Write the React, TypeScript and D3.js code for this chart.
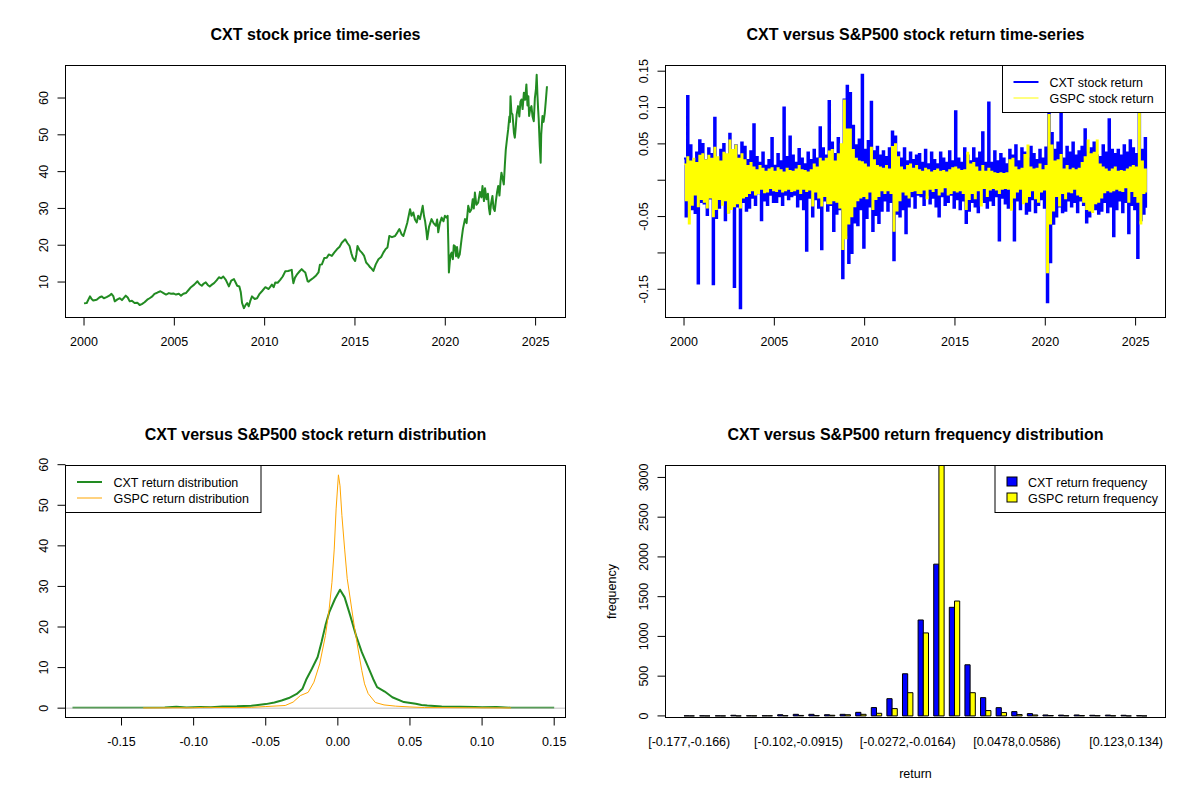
import * as d3 from "d3"

// ---- data (read off the reference) ----

// CXT closing price, [year, price]
const cxtPrice: [number, number][] = [
  [2000.0, 4.2], [2000.15, 4.3], [2000.33, 6.1], [2000.42, 5.4], [2000.51, 5.0], [2000.7, 5.2], [2000.85, 5.8], [2000.97, 6.1],
  [2001.1, 5.6], [2001.25, 5.9], [2001.4, 6.3], [2001.52, 6.8], [2001.62, 6.2], [2001.7, 4.75], [2001.85, 5.3], [2001.98, 5.6],
  [2002.1, 5.1], [2002.31, 6.3], [2002.42, 5.8], [2002.53, 4.75], [2002.65, 4.9], [2002.8, 4.3], [2002.95, 4.4],
  [2003.08, 3.75], [2003.2, 4.0], [2003.35, 4.5], [2003.5, 5.2], [2003.63, 5.6], [2003.78, 6.1], [2003.9, 6.8],
  [2004.05, 7.1], [2004.23, 7.5], [2004.4, 7.0], [2004.54, 6.6], [2004.7, 7.0], [2004.82, 6.8], [2004.95, 6.9],
  [2005.09, 6.6], [2005.25, 6.8], [2005.37, 6.3], [2005.5, 6.8], [2005.64, 7.0], [2005.8, 7.9], [2005.92, 8.6],
  [2006.1, 9.3], [2006.28, 10.2], [2006.4, 9.4], [2006.52, 9.0], [2006.63, 9.6], [2006.74, 9.9], [2006.85, 9.2], [2006.96, 8.8],
  [2007.08, 9.3], [2007.2, 9.7], [2007.35, 10.5], [2007.47, 11.3], [2007.6, 11.0], [2007.71, 11.5], [2007.85, 10.6],
  [2008.02, 8.8], [2008.15, 10.4], [2008.3, 10.8], [2008.4, 9.8], [2008.48, 9.0], [2008.6, 8.8], [2008.68, 7.2], [2008.75, 4.3],
  [2008.85, 2.9], [2008.95, 3.8], [2009.03, 4.3], [2009.12, 3.4], [2009.2, 4.8], [2009.3, 6.1], [2009.45, 5.4], [2009.58, 5.6],
  [2009.72, 6.8], [2009.85, 7.5], [2010.04, 8.6], [2010.22, 8.1], [2010.4, 9.3], [2010.5, 8.6], [2010.59, 9.9], [2010.72, 9.8],
  [2010.86, 10.6], [2011.0, 11.5], [2011.14, 12.9], [2011.3, 13.0], [2011.5, 13.3], [2011.55, 11.0], [2011.59, 9.7],
  [2011.68, 11.2], [2011.78, 12.0], [2011.95, 13.0], [2012.05, 13.5], [2012.15, 13.0], [2012.25, 12.6], [2012.38, 10.2],
  [2012.43, 10.1], [2012.55, 10.6], [2012.69, 11.1], [2012.85, 11.8], [2012.98, 12.6], [2013.06, 14.7], [2013.17, 14.8],
  [2013.3, 16.5], [2013.44, 16.6], [2013.55, 17.5], [2013.72, 17.1], [2013.85, 18.0], [2014.0, 18.9], [2014.15, 19.6],
  [2014.27, 20.7], [2014.46, 21.6], [2014.58, 20.6], [2014.7, 19.8], [2014.8, 17.8], [2014.88, 16.6], [2015.01, 15.7],
  [2015.08, 17.5], [2015.14, 19.8], [2015.26, 18.6], [2015.38, 18.0], [2015.5, 17.2], [2015.62, 15.3], [2015.75, 14.6],
  [2015.84, 14.0], [2015.93, 13.6], [2016.02, 13.0], [2016.15, 14.8], [2016.3, 16.2], [2016.45, 16.8], [2016.57, 18.0],
  [2016.7, 19.0], [2016.8, 19.4], [2016.9, 22.5], [2017.05, 22.2], [2017.22, 22.5], [2017.35, 23.5], [2017.46, 24.4],
  [2017.58, 23.0], [2017.68, 22.5], [2017.8, 24.5], [2017.9, 26.2], [2018.05, 29.8], [2018.13, 28.0], [2018.23, 28.9],
  [2018.32, 27.0], [2018.42, 26.2], [2018.5, 28.0], [2018.6, 27.1], [2018.68, 29.0], [2018.75, 30.7], [2018.82, 28.0],
  [2018.88, 26.6], [2018.95, 24.0], [2019.0, 21.6], [2019.1, 25.0], [2019.24, 27.1], [2019.35, 26.0], [2019.48, 25.3],
  [2019.55, 27.0], [2019.61, 23.5], [2019.7, 26.0], [2019.8, 27.5], [2019.9, 26.5], [2019.98, 28.0], [2020.07, 27.5],
  [2020.13, 28.0], [2020.17, 20.0], [2020.2, 12.6], [2020.25, 15.5], [2020.3, 17.5], [2020.35, 18.0], [2020.42, 16.2],
  [2020.47, 20.0], [2020.53, 19.8], [2020.6, 17.0], [2020.65, 19.5], [2020.72, 16.6], [2020.8, 17.5], [2020.9, 21.6],
  [2020.98, 24.5], [2021.09, 27.1], [2021.18, 26.0], [2021.27, 30.7], [2021.36, 29.0], [2021.45, 29.8], [2021.52, 32.5],
  [2021.58, 30.0], [2021.64, 34.3], [2021.72, 31.0], [2021.82, 31.6], [2021.92, 34.5], [2022.0, 33.0], [2022.06, 36.1],
  [2022.14, 32.0], [2022.2, 35.5], [2022.28, 32.5], [2022.36, 34.0], [2022.42, 30.0], [2022.47, 28.4], [2022.54, 31.5],
  [2022.61, 33.4], [2022.67, 30.0], [2022.74, 29.3], [2022.8, 32.0], [2022.87, 34.5], [2022.93, 36.1], [2023.0, 33.5],
  [2023.06, 37.5], [2023.11, 39.7], [2023.18, 38.0], [2023.24, 36.5], [2023.3, 42.0], [2023.35, 46.0], [2023.42, 49.0],
  [2023.48, 51.4], [2023.55, 55.0], [2023.58, 53.5], [2023.61, 60.5], [2023.66, 56.0], [2023.72, 55.5], [2023.76, 53.2],
  [2023.8, 50.5], [2023.85, 49.2], [2023.9, 52.0], [2023.95, 55.5], [2024.03, 57.8], [2024.1, 55.0], [2024.16, 59.0],
  [2024.22, 59.6], [2024.28, 57.0], [2024.35, 61.4], [2024.42, 59.5], [2024.49, 63.7], [2024.55, 58.0], [2024.6, 60.5],
  [2024.64, 55.1], [2024.7, 57.0], [2024.77, 57.8], [2024.83, 55.0], [2024.9, 53.7], [2024.96, 60.0], [2025.02, 62.5],
  [2025.06, 66.3], [2025.1, 61.0], [2025.14, 56.9], [2025.17, 54.5], [2025.19, 51.9], [2025.23, 47.0], [2025.28, 42.4],
  [2025.31, 50.0], [2025.35, 53.0], [2025.38, 55.1], [2025.44, 53.5], [2025.51, 56.0], [2025.57, 59.5], [2025.63, 63.2],
]

// daily returns, thinned to one extreme per month (x1000), Jan 2000 onward
const returnStartYear = 2000
const returnsPerYear = 12
const cxtReturnPermille = [
  30, -50, 116, -28, 48, -40, 26, -45, 38, -142, 55, -30, // 2000
  50, -32, 28, -48, 44, -25, 36, -143, 86, -52, 30, -38,
  42, -28, 50, -55, 26, -44, 64, -32, 40, -147, 48, -36,
  34, -176, 52, -30, 46, -42, 28, -38, 40, -24, 77, -34,
  32, -18, 24, -55, 38, -28, 20, -34, 28, -20, 58, -30,
  20, -30, 36, -22, 26, -34, 100, -20, 32, -26, 60, -22, // 2005
  34, -20, 24, -36, 43, -26, 30, -40, 22, -97, 38, -24,
  28, -50, 42, -26, 30, -38, 73, -95, 44, -28, 34, -42,
  109, -34, 52, -70, 36, -46, 58, -40, 48, -135, 111, -75,
  130, -114, 120, -100, 75, -58, 48, -62, 56, -40, 145, -93,
  42, -52, 54, -36, 108, -70, 40, -48, 46, -59, 34, -42, // 2010
  40, -28, 32, -42, 44, -30, 67, -110, 60, -46, 38, -50,
  30, -40, 44, -73, 26, -36, 38, -22, 28, -38, 34, -20,
  36, -22, 24, -34, 42, -20, 22, -32, 38, -24, 28, -36,
  22, -50, 38, -22, 30, -34, 24, -30, 40, -20, 26, -38,
  95, -26, 30, -40, 24, -28, 44, -59, 34, -42, 26, -30, // 2015
  44, -36, 30, -44, 38, -26, 66, -30, 24, -38, 107, -28,
  24, -34, 40, -22, 26, -83, 36, -24, 30, -32, 22, -38,
  42, -30, 34, -83, 48, -28, 26, -40, 44, -30, 38, -46,
  30, -42, 46, -26, 36, -44, 28, -34, 42, -26, 30, -38,
  45, -168, 120, -113, 65, -60, 42, -50, 52, -36, 95, -44, // 2020
  30, -42, 46, -28, 38, -36, 52, -30, 34, -44, 40, -28,
  46, -34, 70, -58, 38, -50, 44, -36, 52, -40, 34, -46,
  32, -42, 48, -30, 38, -44, 84, -36, 42, -77, 36, -40,
  42, -28, 34, -44, 48, -30, 38, -73, 55, -34, 44, -40,
  36, -107, 95, -55, 42, -46, 58, -38, // 2025
]
const gspcReturnPermille = [
  22, -28, 32, -60, 26, -34, 30, -20, 24, -36, 34, -26, // 2000
  36, -30, 28, -38, 34, -24, 30, -50, 45, -40, 32, -26,
  26, -34, 38, -28, 36, -45, 55, -40, 42, -36, 48, -32,
  30, -38, 36, -24, 28, -22, 20, -18, 24, -14, 18, -20,
  14, -18, 20, -12, 16, -17, 12, -16, 15, -11, 17, -14,
  12, -15, 17, -12, 14, -16, 11, -14, 16, -12, 13, -15, // 2005
  12, -14, 15, -12, 20, -18, 14, -12, 13, -15, 11, -13,
  14, -35, 22, -16, 18, -24, 30, -35, 26, -22, 30, -32,
  40, -32, 42, -28, 26, -30, 36, -38, 50, -95, 110, -80,
  70, -60, 70, -50, 42, -36, 30, -28, 26, -24, 25, -22,
  22, -25, 18, -16, 45, -40, 28, -26, 20, -22, 18, -14, // 2010
  16, -18, 20, -14, 15, -18, 46, -70, 50, -42, 32, -28,
  18, -16, 14, -20, 20, -24, 22, -15, 16, -14, 20, -18,
  14, -18, 12, -13, 16, -25, 14, -12, 11, -15, 13, -11,
  15, -20, 12, -16, 13, -10, 11, -20, 14, -18, 17, -14,
  18, -16, 15, -14, 13, -18, 14, -40, 38, -26, 22, -18, // 2015
  24, -25, 18, -14, 12, -35, 20, -11, 12, -22, 16, -13,
  12, -11, 10, -13, 9, -18, 10, -12, 9, -11, 10, -12,
  28, -41, 30, -24, 18, -16, 14, -12, 16, -32, 35, -30,
  48, -22, 18, -14, 15, -25, 16, -30, 22, -16, 14, -13,
  20, -127, 90, -60, 48, -42, 26, -22, 28, -35, 35, -18, // 2020
  15, -25, 20, -16, 14, -17, 16, -12, 14, -20, 16, -22,
  24, -30, 32, -40, 55, -42, 36, -44, 38, -32, 55, -30,
  22, -24, 18, -17, 15, -14, 12, -16, 15, -14, 18, -12,
  12, -14, 13, -15, 12, -10, 15, -30, 18, -15, 20, -22,
  18, -30, 95, -60, 26, -18, 15, -17, // 2025
]

// kernel density estimates, [return, density]
const cxtDensity: [number, number][] = [
  [-0.184, 0.1], [-0.15, 0.1], [-0.12, 0.15], [-0.112, 0.35], [-0.105, 0.15], [-0.095, 0.3], [-0.088, 0.2],
  [-0.08, 0.4], [-0.07, 0.45], [-0.06, 0.6], [-0.05, 1.0], [-0.044, 1.4], [-0.039, 1.9], [-0.034, 2.5],
  [-0.0285, 3.5], [-0.0245, 4.8], [-0.022, 7.0], [-0.018, 9.7], [-0.014, 12.6], [-0.0113, 16.3], [-0.0086, 20.4],
  [-0.006, 23.6], [-0.002, 26.9], [0.0015, 29.2], [0.0047, 27.3], [0.0086, 22.8], [0.0126, 17.9], [0.0166, 13.8],
  [0.0206, 10.5], [0.0245, 7.2], [0.0272, 5.2], [0.0325, 4.1], [0.0378, 2.7], [0.0458, 1.5], [0.054, 1.07],
  [0.058, 0.8], [0.062, 0.66], [0.072, 0.4], [0.085, 0.35], [0.095, 0.3], [0.1, 0.2], [0.11, 0.3], [0.12, 0.12],
  [0.15, 0.1],
]
const gspcDensity: [number, number][] = [
  [-0.135, 0.05], [-0.1, 0.1], [-0.093, 0.2], [-0.07, 0.15], [-0.06, 0.2], [-0.05, 0.4], [-0.0365, 0.66],
  [-0.031, 1.5], [-0.026, 3.1], [-0.0206, 3.9], [-0.0166, 6.4], [-0.0126, 10.9], [-0.0086, 17.9], [-0.006, 24.5],
  [-0.0041, 31.0], [-0.0025, 39.2], [-0.0012, 49.1], [0.0004, 57.5], [0.0015, 54.8], [0.0028, 47.5], [0.0047, 39.2],
  [0.0065, 31.9], [0.0086, 26.9], [0.0113, 20.4], [0.014, 14.6], [0.0166, 9.3], [0.0185, 6.0], [0.021, 3.6],
  [0.026, 1.4], [0.032, 0.8], [0.04, 0.5], [0.05, 0.3], [0.06, 0.15], [0.09, 0.1], [0.12, 0.05],
]

// return histogram, 30 bins of width ~0.0107 from -0.177
const cxtFreq = [1, 1, 1, 8, 2, 2, 15, 20, 20, 15, 20, 45, 105, 217, 530, 1207, 1909, 1366, 643, 230, 104, 54, 29, 12, 10, 12, 8, 10, 8, 3]
const gspcFreq = [0, 0, 0, 0, 1, 2, 3, 6, 5, 8, 15, 20, 33, 92, 292, 1044, 3190, 1445, 292, 67, 42, 17, 12, 5, 3, 4, 3, 2, 0, 0]
const binLabels = [
  { bin: 0, label: "[-0.177,-0.166)" },
  { bin: 7, label: "[-0.102,-0.0915)" },
  { bin: 14, label: "[-0.0272,-0.0164)" },
  { bin: 21, label: "[0.0478,0.0586)" },
  { bin: 28, label: "[0.123,0.134)" },
]

// ticks
const yearTicks = [2000, 2005, 2010, 2015, 2020, 2025]
const priceTicks = [10, 20, 30, 40, 50, 60]
const returnTicks = [-0.15, -0.1, -0.05, 0, 0.05, 0.1, 0.15]
const returnTickLabels = ["-0.15", "", "-0.05", "", "0.05", "0.10", "0.15"] // R drops the overlapping ones
const densityXTicks = [-0.15, -0.1, -0.05, 0, 0.05, 0.1, 0.15]
const densityXLabels = ["-0.15", "-0.10", "-0.05", "0.00", "0.05", "0.10", "0.15"]
const densityYTicks = [0, 10, 20, 30, 40, 50, 60]
const freqTicks = [0, 500, 1000, 1500, 2000, 2500, 3000]
const freqLimits = [-20, 3150]

// ---- layout ----
const W = 500
const H = 252
const FONT = "'Liberation Sans', Arial, Helvetica, sans-serif"
const AXIS_FS = 12.5
const TICK = 8

// R pads the data range by 4% on each side
const rPad = ([a, b]: number[]) => {
  const d = (b - a) * 0.04
  return [a - d, b + d]
}

function Frame() {
  return <rect x={0} y={0} width={W} height={H} fill="none" stroke="#000" strokeWidth={1} />
}

function Title({ text }: { text: string }) {
  return (
    <text x={W / 2} y={-26} textAnchor="middle" fontSize={16} fontWeight="bold">
      {text}
    </text>
  )
}

function XAxis({ scale, ticks, labels, marks = true }: any) {
  return (
    <g>
      {ticks.map((t: number, i: number) => (
        <g key={i} transform={`translate(${scale(t)},0)`}>
          {marks && <line y1={H} y2={H + TICK} stroke="#000" />}
          <text y={H + 28} textAnchor="middle" fontSize={AXIS_FS}>
            {labels ? labels[i] : String(t)}
          </text>
        </g>
      ))}
    </g>
  )
}

function YAxis({ scale, ticks, labels }: any) {
  return (
    <g>
      {ticks.map((t: number, i: number) => (
        <g key={i} transform={`translate(0,${scale(t)})`}>
          <line x1={-TICK} x2={0} stroke="#000" />
          <text transform="translate(-18,0) rotate(-90)" textAnchor="middle" fontSize={AXIS_FS}>
            {labels ? labels[i] : String(t)}
          </text>
        </g>
      ))}
    </g>
  )
}

type LegendItem = { label: string; color: string; kind: "line" | "box"; lw?: number }

function Legend({ x, w, items, symX, textX }: { x: number; w: number; items: LegendItem[]; symX: number; textX: number }) {
  return (
    <g transform={`translate(${x},0)`}>
      <rect x={0} y={0} width={w} height={47} fill="#fff" stroke="#000" />
      {items.map((it, i) => {
        const cy = 16.5 + i * 16
        return (
          <g key={it.label}>
            {it.kind === "line" ? (
              <line x1={symX} x2={symX + 25} y1={cy} y2={cy} stroke={it.color} strokeWidth={it.lw} />
            ) : (
              <rect x={symX} y={cy - 5} width={10} height={9} fill={it.color} stroke="#000" />
            )}
            <text x={textX} y={cy + 4.5} fontSize={AXIS_FS}>
              {it.label}
            </text>
          </g>
        )
      })}
    </g>
  )
}

function PricePanel() {
  const x = d3.scaleLinear().domain(rPad(d3.extent(cxtPrice, (d) => d[0]) as number[])).range([0, W])
  const y = d3.scaleLinear().domain(rPad(d3.extent(cxtPrice, (d) => d[1]) as number[])).range([H, 0])
  const line = d3
    .line<[number, number]>()
    .x((d) => x(d[0]))
    .y((d) => y(d[1]))
  return (
    <g>
      <Title text="CXT stock price time-series" />
      <path d={line(cxtPrice) ?? ""} fill="none" stroke="#228B22" strokeWidth={2} strokeLinejoin="round" />
      <XAxis scale={x} ticks={yearTicks} />
      <YAxis scale={y} ticks={priceTicks} />
      <Frame />
    </g>
  )
}

const cxtReturns = cxtReturnPermille.map((v) => v / 1000)
const gspcReturns = gspcReturnPermille.map((v) => v / 1000)
const returnExtent = d3.extent(cxtReturns) as number[]

function ReturnPanel() {
  const x = d3.scaleLinear().domain(rPad(d3.extent(cxtPrice, (d) => d[0]) as number[])).range([0, W])
  const y = d3.scaleLinear().domain(rPad(returnExtent)).range([H, 0])
  // step curve: each sample becomes a vertical run, like a dense daily line at screen resolution
  const line = d3
    .line<number>()
    .x((_, i) => x(returnStartYear + i / returnsPerYear))
    .y((d) => y(d))
    .curve(d3.curveStepAfter)
  return (
    <g>
      <Title text="CXT versus S&P500 stock return time-series" />
      <path d={line(cxtReturns) ?? ""} fill="none" stroke="#0000FF" strokeWidth={2} />
      <path d={line(gspcReturns) ?? ""} fill="none" stroke="#FFFF00" strokeWidth={1.5} />
      <XAxis scale={x} ticks={yearTicks} />
      <YAxis scale={y} ticks={returnTicks} labels={returnTickLabels} />
      <Legend
        x={337}
        w={163}
        symX={11}
        textX={47}
        items={[
          { label: "CXT stock return", color: "#0000FF", kind: "line", lw: 2 },
          { label: "GSPC stock return", color: "#FFFF00", kind: "line", lw: 1 },
        ]}
      />
      <Frame />
    </g>
  )
}

function DensityPanel() {
  const x = d3.scaleLinear().domain(rPad(returnExtent)).range([0, W])
  const ymax = d3.max([...cxtDensity, ...gspcDensity], (d) => d[1]) as number
  const y = d3.scaleLinear().domain(rPad([0, ymax])).range([H, 0])
  const line = d3
    .line<[number, number]>()
    .x((d) => x(d[0]))
    .y((d) => y(d[1]))
  return (
    <g>
      <Title text="CXT versus S&P500 stock return distribution" />
      <path d={line(cxtDensity) ?? ""} fill="none" stroke="#228B22" strokeWidth={2} strokeLinejoin="round" />
      <line x1={0} x2={W} y1={y(0)} y2={y(0)} stroke="#BEBEBE" />
      <path d={line(gspcDensity) ?? ""} fill="none" stroke="#FFA500" strokeWidth={1} strokeLinejoin="round" />
      <XAxis scale={x} ticks={densityXTicks} labels={densityXLabels} />
      <YAxis scale={y} ticks={densityYTicks} />
      <Legend
        x={0}
        w={195.5}
        symX={11.5}
        textX={48}
        items={[
          { label: "CXT return distribution", color: "#228B22", kind: "line", lw: 2 },
          { label: "GSPC return distribution", color: "#FFA500", kind: "line", lw: 1 },
        ]}
      />
      <Frame />
    </g>
  )
}

function HistogramPanel() {
  // barplot(beside=TRUE): each group is a 1-unit gap followed by two 1-unit bars
  const groups = cxtFreq.length
  const x = d3.scaleLinear().domain(rPad([1, groups * 3])).range([0, W])
  const y = d3.scaleLinear().domain(freqLimits).range([H, 0])
  const bar = (left: number, v: number) => {
    const x0 = x(left)
    const x1 = x(left + 1)
    return `M${x0},${y(0)}H${x1}V${y(v)}H${x0}Z`
  }
  return (
    <g>
      <Title text="CXT versus S&P500 return frequency distribution" />
      <defs>
        <clipPath id="hist-clip">
          <rect x={0} y={0} width={W} height={H} />
        </clipPath>
      </defs>
      <g clipPath="url(#hist-clip)">
        {cxtFreq.map((v, i) => (
          <path key={`c${i}`} d={bar(3 * i + 1, v)} fill="#0000FF" stroke="#000" strokeWidth={1} />
        ))}
        {gspcFreq.map((v, i) => (
          <path key={`g${i}`} d={bar(3 * i + 2, v)} fill="#FFFF00" stroke="#000" strokeWidth={1} />
        ))}
      </g>
      <XAxis
        scale={x}
        ticks={binLabels.map((b) => 3 * b.bin + 2)}
        labels={binLabels.map((b) => b.label)}
        marks={false}
      />
      <YAxis scale={y} ticks={freqTicks} />
      <text x={W / 2} y={H + 60} textAnchor="middle" fontSize={AXIS_FS}>
        return
      </text>
      <text transform={`translate(-50,${H / 2}) rotate(-90)`} textAnchor="middle" fontSize={AXIS_FS}>
        frequency
      </text>
      <Legend
        x={329.5}
        w={170.5}
        symX={12}
        textX={33}
        items={[
          { label: "CXT return frequency", color: "#0000FF", kind: "box" },
          { label: "GSPC return frequency", color: "#FFFF00", kind: "box" },
        ]}
      />
      <Frame />
    </g>
  )
}

export default function App() {
  return (
    <svg
      width={1200}
      height={800}
      style={{ position: "absolute", left: 0, top: 0, background: "#fff" }}
      fontFamily={FONT}
    >
      <rect width={1200} height={800} fill="#fff" />
      <g transform="translate(65.5,65.5)">
        <PricePanel />
      </g>
      <g transform="translate(665.5,65.5)">
        <ReturnPanel />
      </g>
      <g transform="translate(65.5,465.5)">
        <DensityPanel />
      </g>
      <g transform="translate(665.5,465.5)">
        <HistogramPanel />
      </g>
    </svg>
  )
}
